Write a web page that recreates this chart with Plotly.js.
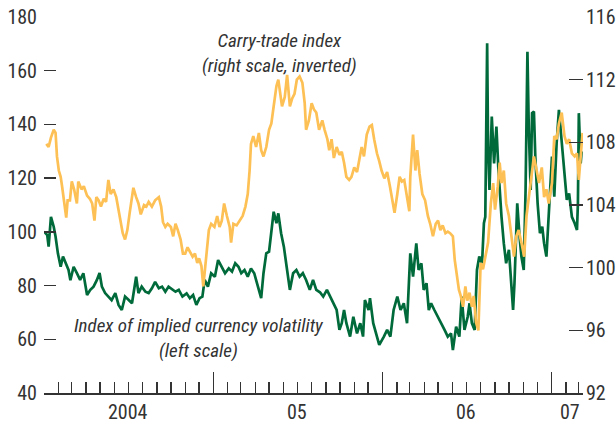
<!DOCTYPE html>
<html>
<head>
<meta charset="utf-8">
<script src="https://cdn.plot.ly/plotly-3.0.1.min.js"></script>
<style>
html,body{margin:0;padding:0;background:#fff;}
#chart{width:616px;height:428px;}
</style>
</head>
<body>
<div id="chart"></div>
<script>
// Index of implied currency volatility (left scale)
const volDates = [
"2004-01-01","2004-01-08","2004-01-11","2004-01-16","2004-01-22","2004-01-26","2004-01-31","2004-02-06","2004-02-11","2004-02-16","2004-02-23","2004-02-27",
"2004-03-05","2004-03-12","2004-03-19","2004-03-26","2004-04-03","2004-04-10","2004-04-17","2004-04-24","2004-04-30","2004-05-05","2004-05-12","2004-05-19","2004-05-26",
"2004-06-03","2004-06-10","2004-06-17","2004-06-24","2004-07-02","2004-07-09","2004-07-18","2004-07-23","2004-07-30","2004-08-07","2004-08-14","2004-08-21","2004-08-28",
"2004-09-05","2004-09-12","2004-09-19","2004-09-26","2004-10-04","2004-10-11","2004-10-18","2004-10-26","2004-11-04","2004-11-11","2004-11-18","2004-11-25",
"2004-12-02","2004-12-08","2004-12-13","2004-12-20","2004-12-27","2005-01-04","2005-01-11","2005-01-19","2005-01-26","2005-02-03","2005-02-10","2005-02-17","2005-02-24",
"2005-03-02","2005-03-09","2005-03-16","2005-03-23","2005-03-30","2005-04-07","2005-04-14","2005-04-19","2005-04-25","2005-05-01","2005-05-06","2005-05-11","2005-05-17",
"2005-05-21","2005-05-27","2005-06-02","2005-06-08","2005-06-15","2005-06-22","2005-06-29","2005-07-06","2005-07-13","2005-07-20","2005-07-28","2005-08-04","2005-08-11",
"2005-08-19","2005-08-26","2005-09-03","2005-09-10","2005-09-17","2005-09-24","2005-09-30","2005-10-05","2005-10-10","2005-10-15","2005-10-23","2005-10-30",
"2005-11-07","2005-11-14","2005-11-20","2005-11-24","2005-12-02","2005-12-05","2005-12-12","2005-12-20","2005-12-25","2006-01-04","2006-01-11","2006-01-18","2006-01-25",
"2006-02-02","2006-02-09","2006-02-16","2006-02-23","2006-02-27","2006-03-02","2006-03-08","2006-03-15","2006-03-20","2006-03-26","2006-03-31","2006-04-06","2006-04-11",
"2006-04-16","2006-04-23","2006-05-01","2006-05-08","2006-05-15","2006-05-22","2006-05-29","2006-06-02","2006-06-09","2006-06-16","2006-06-21","2006-06-27",
"2006-07-04","2006-07-08","2006-07-13","2006-07-19","2006-07-24","2006-07-29","2006-08-04","2006-08-08","2006-08-11","2006-08-15","2006-08-17","2006-08-20","2006-08-25",
"2006-08-30","2006-09-04","2006-09-08","2006-09-11","2006-09-15","2006-09-20","2006-09-25","2006-10-01","2006-10-05","2006-10-10","2006-10-13","2006-10-19","2006-10-24",
"2006-10-28","2006-11-02","2006-11-06","2006-11-10","2006-11-13","2006-11-17","2006-11-20","2006-11-24","2006-11-27","2006-12-02","2006-12-07","2006-12-12","2006-12-16",
"2006-12-21","2006-12-26","2007-01-02","2007-01-07","2007-01-12","2007-01-17","2007-01-23","2007-01-29","2007-02-03","2007-02-08","2007-02-14","2007-02-20","2007-02-25",
"2007-02-27","2007-03-01","2007-03-05","2007-03-07"];
const volValues = [
100.1,98.8,94.5,105.6,101.9,98.2,92,87,90.8,88.4,85.8,82,
87,84.6,82.1,84.6,76.5,78.4,79.6,82,84.7,79.6,77.2,75.9,74.6,
77.2,72.8,70.9,75.9,74.6,73.4,83.3,77.2,79.6,77.7,77.2,79,81.4,
79,79.6,77.7,79.6,78.4,77.7,78.4,75.9,77.1,75.3,76.5,72.8,
75.3,75.9,82.1,79.6,84.6,83.3,89.5,87,84.6,86.4,85.2,88.3,87,
84.6,85.8,83.3,86.4,84.6,79.6,75.3,84.6,92,92.6,99.5,107.5,103.2,
106.9,99.5,94.5,87,78.4,84.6,85.8,83.3,84.6,82.1,78.4,82.1,78.4,
77.5,75.9,78.4,75.9,73.4,70.9,63.5,66,70.9,66,61,68.4,
62.2,66,61,74.6,70.9,75.3,66,61,57.9,61,63.5,61,70.9,
75.9,70.9,73.4,66,80.9,92,83.3,95.7,85.8,88.3,78.4,80.9,70.9,
73.4,70.9,68.4,66,63.5,61,62.2,56,64.7,61,75.9,63.5,
68.4,73.4,66,63.5,85.8,90.8,88.3,103.2,105.6,170.2,131.7,115.6,142.9,
125.5,139.2,124.3,115.6,105.6,95.7,88.3,93.3,82.1,70.9,80.9,110.6,98.2,
90.8,85.8,115.6,167.1,137.9,115.6,144.2,144.8,128,110.6,99.5,101.9,95.7,
90.8,105.6,128,113.1,133,145.4,133,123,111.9,114.3,105.6,103.2,100.7,
110.6,144.2,125.5,130];

// Carry-trade index (right scale)
const carryDates = [
"2004-01-06","2004-01-11","2004-01-16","2004-01-22","2004-01-26","2004-01-29","2004-02-02","2004-02-06","2004-02-09","2004-02-13","2004-02-16","2004-02-18",
"2004-02-21","2004-02-26","2004-03-01","2004-03-06","2004-03-12","2004-03-15","2004-03-22","2004-03-27","2004-04-03","2004-04-09","2004-04-14","2004-04-19",
"2004-04-23","2004-04-28","2004-05-03","2004-05-09","2004-05-14","2004-05-19","2004-05-24","2004-05-30","2004-06-05","2004-06-10","2004-06-15","2004-06-19",
"2004-06-24","2004-06-29","2004-07-04","2004-07-09","2004-07-12","2004-07-18","2004-07-23","2004-07-28","2004-08-04","2004-08-09","2004-08-14","2004-08-21",
"2004-08-28","2004-09-05","2004-09-10","2004-09-14","2004-09-19","2004-09-24","2004-10-01","2004-10-06","2004-10-11","2004-10-16","2004-10-22","2004-10-27",
"2004-11-01","2004-11-06","2004-11-11","2004-11-17","2004-11-22","2004-11-27","2004-12-01","2004-12-06","2004-12-10","2004-12-13","2004-12-18","2004-12-22",
"2004-12-27","2005-01-03","2005-01-09","2005-01-14","2005-01-19","2005-01-24","2005-01-30","2005-02-05","2005-02-08","2005-02-13","2005-02-20","2005-02-27",
"2005-03-05","2005-03-11","2005-03-16","2005-03-20","2005-03-23","2005-03-28","2005-04-03","2005-04-09","2005-04-14","2005-04-19","2005-04-25","2005-05-01",
"2005-05-06","2005-05-11","2005-05-17","2005-05-21","2005-05-25","2005-05-29","2005-06-04","2005-06-09","2005-06-15","2005-06-20","2005-06-25","2005-06-30",
"2005-07-06","2005-07-12","2005-07-17","2005-07-20","2005-07-26","2005-08-01","2005-08-06","2005-08-11","2005-08-17","2005-08-24","2005-08-29","2005-09-04",
"2005-09-08","2005-09-13","2005-09-18","2005-09-24","2005-09-30","2005-10-05","2005-10-10","2005-10-15","2005-10-21","2005-10-26","2005-11-01","2005-11-07",
"2005-11-12","2005-11-17","2005-11-22","2005-11-28","2005-12-04","2005-12-09","2005-12-14","2005-12-20","2005-12-25","2005-12-30","2006-01-05","2006-01-11",
"2006-01-17","2006-01-22","2006-01-27","2006-02-02","2006-02-07","2006-02-12","2006-02-17","2006-02-23","2006-02-28","2006-03-02","2006-03-08","2006-03-13",
"2006-03-17","2006-03-22","2006-03-28","2006-04-03","2006-04-09","2006-04-14","2006-04-20","2006-04-26","2006-05-01","2006-05-06","2006-05-11","2006-05-17",
"2006-05-22","2006-05-27","2006-06-02","2006-06-06","2006-06-11","2006-06-15","2006-06-19","2006-06-24","2006-06-29","2006-07-03","2006-07-08","2006-07-13",
"2006-07-17","2006-07-22","2006-07-27","2006-08-01","2006-08-06","2006-08-11","2006-08-17","2006-08-23","2006-08-28","2006-09-01","2006-09-07","2006-09-11",
"2006-09-15","2006-09-20","2006-09-25","2006-10-01","2006-10-06","2006-10-12","2006-10-17","2006-10-22","2006-10-28","2006-11-03","2006-11-08","2006-11-13",
"2006-11-19","2006-11-24","2006-11-30","2006-12-05","2006-12-11","2006-12-16","2006-12-21","2006-12-26","2007-01-02","2007-01-07","2007-01-12","2007-01-17",
"2007-01-23","2007-01-29","2007-02-03","2007-02-08","2007-02-14","2007-02-20","2007-02-25","2007-03-01","2007-03-05","2007-03-09"];
const carryValues = [
107.9,107.7,108.3,108.8,108.6,107.1,106.2,105.8,105.2,104.3,103.7,103.2,
104.3,104.3,105.5,105,104.1,105.5,105,105.2,104.6,104.4,104.1,103,
104.5,104.3,103.9,104.4,104.2,105.6,104.7,105,104.5,103.7,103,102.2,
101.8,102.4,103.5,104.5,105.1,104.5,104.1,103.4,104,103.9,104.2,103.9,
104.3,104.5,103.9,102.9,102.6,102.8,102.6,102,102.8,102.4,101.8,100.9,
100.9,101.3,101,100.7,100.9,100.3,100.6,100.1,98.8,99.6,101.3,102.4,
102.8,102.6,103.3,102.6,103,104.1,103.3,102.6,101.6,102.8,102.7,103,
103.3,103.9,104.7,106.2,107.9,108.4,107.7,108.6,107.5,107.1,107.7,108.8,
109.2,110.3,111.6,112,111.1,110.3,110.9,112.3,110.3,110.8,111.1,112,
112.2,111.8,110.5,108.8,109.4,110.5,110.1,109.9,108.8,109.4,108.8,108.2,
107.5,108.2,107,107.7,107.2,107.4,106.7,105.8,105.6,105.8,106.4,106.1,
106.9,107.7,107.1,108.5,109,109.1,108.2,107.3,106.8,106.2,105.7,106.1,
105.2,104.3,103.5,104.7,105.8,105.5,105.6,104.5,103.6,105.8,108.5,106.2,
107.5,106,104.7,104.3,103.3,102.8,102,102.8,103,102.4,102.7,102.2,
102.3,102.2,102,100.5,99.4,98.6,98.2,97.5,98.8,97.9,98.4,97.5,
98.2,96.5,96,100.3,99.9,100.7,101.6,104.1,105.4,103.7,105.2,106.7,
105.4,106.2,104.1,103.3,102,100.7,102,102.4,101.6,100.7,103.3,104.5,
105.8,107.1,106.2,105.4,106.4,104.5,105,104.1,105.4,108.4,108.2,109.2,
109.9,108.4,107.9,108.2,107.3,107.1,107.3,105.6,107.1,108.6];

const leftTicks = [40, 60, 80, 100, 120, 140, 160, 180];
const rightTicks = [92, 96, 100, 104, 108, 112, 116];
const yearLabelDates = ["2004-07-01", "2005-07-01", "2006-07-01", "2007-02-10"];
const yearLabels = ["2004", "05", "06", "07"];

const FONT = "'Liberation Sans Narrow', 'Arial Narrow', 'Roboto Condensed', Arial, sans-serif";
const TXT = "#333333";
const GREEN = "#006A3B";
const YELLOW = "#FDC054";

const traces = [
  {x: carryDates, y: carryValues, yaxis: "y2", type: "scatter", mode: "lines",
   line: {color: YELLOW, width: 2.7}, hoverinfo: "skip"},
  {x: volDates, y: volValues, yaxis: "y", type: "scatter", mode: "lines",
   line: {color: GREEN, width: 2.7}, hoverinfo: "skip"}
];

const annotations = yearLabels.map((t, i) => ({
  x: yearLabelDates[i], xref: "x", y: -0.05, yref: "paper",
  text: t, showarrow: false, xanchor: "center", yanchor: "middle",
  font: {family: FONT, size: 20, color: TXT}
}));
[
  {t: "Carry-trade index<br>(right scale, inverted)", x: 0.436, y: 0.903},
  {t: "Index of implied currency volatility<br>(left scale)", x: 0.288, y: 0.146}
].forEach(a => annotations.push({
  x: a.x, xref: "paper", y: a.y, yref: "paper",
  text: a.t.split("<br>").map(s => "<i>" + s + "</i>").join("<br>"),
  showarrow: false, xanchor: "center", yanchor: "middle", align: "center",
  font: {family: FONT, size: 19, color: TXT}
}));

const layout = {
  width: 616, height: 428,
  margin: {l: 44, r: 33, t: 17, b: 35},
  paper_bgcolor: "#fff", plot_bgcolor: "#fff",
  showlegend: false,
  font: {family: FONT, size: 20, color: TXT},
  xaxis: {
    type: "date", range: ["2004-01-01", "2007-03-10"],
    showgrid: false, zeroline: false,
    showline: true, linecolor: TXT, linewidth: 1.5,
    ticks: "inside", tickmode: "linear", tick0: "2004-01-01", dtick: "M12",
    ticklen: 21, tickwidth: 1.3, tickcolor: TXT, showticklabels: false,
    minor: {ticks: "inside", dtick: "M1", tick0: "2004-01-01", ticklen: 11, tickwidth: 1.3, tickcolor: TXT, showgrid: false}
  },
  yaxis: {
    range: [40, 180], tickmode: "array", tickvals: leftTicks,
    showgrid: false, zeroline: false, showline: false,
    ticks: "inside", ticklen: 12, tickwidth: 1.3, tickcolor: TXT,
    ticklabelstandoff: 6,
    tickfont: {family: FONT, size: 20, color: TXT}
  },
  yaxis2: {
    range: [92, 116], overlaying: "y", side: "right", tickmode: "array", tickvals: rightTicks,
    showgrid: false, zeroline: false, showline: false,
    ticks: "inside", ticklen: 14, tickwidth: 1.3, tickcolor: TXT,
    ticklabelstandoff: 2,
    tickfont: {family: FONT, size: 20, color: TXT}
  },
  annotations: annotations
};

Plotly.newPlot("chart", traces, layout, {staticPlot: true, displayModeBar: false});
</script>
</body>
</html>
